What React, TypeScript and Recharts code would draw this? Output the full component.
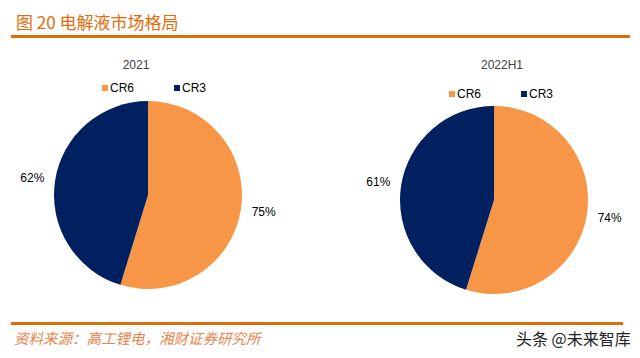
import React from "react";
import { PieChart, Pie, Cell, Legend } from "recharts";

const categories = ["CR6", "CR3"];
const values2021 = [75, 62];
const values2022H1 = [74, 61];
const colors = ["#F79646", "#002060"];

const RAD = Math.PI / 180;
const FONT = "'Liberation Sans', Arial, sans-serif";
const CJK = "'Noto Sans CJK SC', sans-serif";

const toData = (vals: number[]) =>
  categories.map((name, i) => ({ name, value: vals[i] }));

function renderLabel(props: any) {
  const { cx, cy, midAngle, outerRadius, value } = props;
  const r = outerRadius + 23;
  const x = cx + r * Math.cos(-midAngle * RAD);
  const y = cy + r * Math.sin(-midAngle * RAD);
  return (
    <text
      x={x}
      y={y}
      textAnchor="middle"
      dominantBaseline="central"
      fontSize={12}
      fontFamily={FONT}
      fill="#000"
    >
      {value}%
    </text>
  );
}

function LegendContent({ payload }: any) {
  // keep the series order (CR6 first), not alphabetical
  const items = [...(payload || [])].sort(
    (a: any, b: any) => categories.indexOf(a.value) - categories.indexOf(b.value)
  );
  return (
    <div style={{ display: "flex", fontFamily: FONT, fontSize: 12, lineHeight: "14px" }}>
      {items.map((p: any) => (
        <div key={p.value} style={{ display: "flex", alignItems: "center", width: 72 }}>
          <span
            style={{ display: "inline-block", width: 6, height: 6, background: p.color, marginRight: 2 }}
          />
          <span style={{ color: "#000" }}>{p.value}</span>
        </div>
      ))}
    </div>
  );
}

interface PieBlockProps {
  left: number;
  title: string;
  titleX: number;
  values: number[];
  cx: number;
  cy: number;
  legendLeft: number;
  legendTop: number;
}

function PieBlock({ left, title, titleX, values, cx, cy, legendLeft, legendTop }: PieBlockProps) {
  return (
    <div style={{ position: "absolute", left, top: 0, width: 320, height: 358 }}>
      <div
        style={{
          position: "absolute",
          left: titleX - 40,
          top: 58,
          width: 80,
          textAlign: "center",
          fontFamily: FONT,
          fontSize: 12,
          lineHeight: "14px",
          color: "#404040",
        }}
      >
        {title}
      </div>
      <PieChart width={320} height={358} margin={{ top: 0, right: 0, bottom: 0, left: 0 }}>
        <Legend
          verticalAlign="middle"
          align="center"
          layout="horizontal"
          content={<LegendContent />}
          wrapperStyle={{ top: legendTop, left: legendLeft, width: 200 }}
        />
        <Pie
          data={toData(values)}
          dataKey="value"
          nameKey="name"
          cx={cx}
          cy={cy}
          outerRadius={94}
          startAngle={90}
          endAngle={-270}
          stroke="none"
          label={renderLabel}
          labelLine={false}
          isAnimationActive={false}
        >
          {categories.map((c, i) => (
            <Cell key={c} fill={colors[i]} />
          ))}
        </Pie>
      </PieChart>
    </div>
  );
}

export default function App() {
  return (
    <div
      style={{
        position: "absolute",
        left: 0,
        top: 0,
        width: 640,
        height: 358,
        background: "#fff",
        overflow: "hidden",
      }}
    >
      <div
        style={{
          position: "absolute",
          left: 16,
          top: 11,
          fontFamily: CJK,
          fontSize: 17,
          lineHeight: "22px",
          color: "#E36C0A",
          fontWeight: 400,
          whiteSpace: "nowrap",
        }}
      >
        图 20 电解液市场格局
      </div>
      <div style={{ position: "absolute", left: 11, top: 35, width: 619, height: 3, background: "#E26B0A" }} />

      <PieBlock left={0} title="2021" titleX={136} values={values2021} cx={148} cy={195} legendLeft={102} legendTop={81} />
      <PieBlock left={320} title="2022H1" titleX={182} values={values2022H1} cx={174} cy={200} legendLeft={129} legendTop={87} />

      <div style={{ position: "absolute", left: 11, top: 322, width: 612, height: 2.5, background: "#E26B0A" }} />
      <div
        style={{
          position: "absolute",
          left: 14,
          top: 328,
          fontFamily: CJK,
          fontSize: 14.5,
          lineHeight: "20px",
          fontStyle: "italic",
          color: "#E8834A",
          whiteSpace: "nowrap",
        }}
      >
        资料来源：高工锂电，湘财证券研究所
      </div>
      <div
        style={{
          position: "absolute",
          left: 516,
          top: 328,
          fontFamily: CJK,
          fontSize: 16,
          lineHeight: "20px",
          color: "#222",
          whiteSpace: "nowrap",
        }}
      >
        头条 @未来智库
      </div>
    </div>
  );
}
